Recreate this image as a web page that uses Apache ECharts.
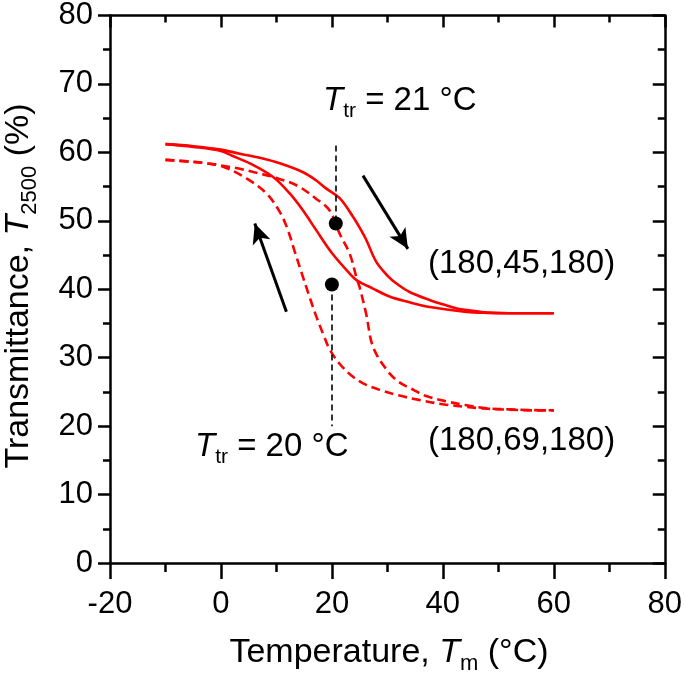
<!DOCTYPE html>
<html>
<head>
<meta charset="utf-8">
<script src="https://cdn.jsdelivr.net/npm/echarts@6/dist/echarts.min.js"></script>
<style>
html,body{margin:0;padding:0;background:#fff;}
#chart{width:685px;height:678px;}
</style>
</head>
<body>
<div id="chart"></div>
<script>
// ---- Data ----
// (180,45,180) heating (solid, upper branch)
const heat45T = [-10, -5, 0, 3.4, 7, 10.6, 14.8, 17, 19, 21.4, 23.8, 25, 26.2, 28, 30, 31.7, 34, 37.7, 40, 42.5, 45, 48, 52, 56, 60];
const heat45V = [61.2, 60.9, 60.4, 59.8, 59.2, 58.4, 57.1, 56.0, 54.7, 53.3, 50.6, 49.0, 47.2, 44.0, 42.0, 40.8, 39.6, 38.4, 37.8, 37.2, 36.9, 36.6, 36.5, 36.5, 36.5];
// (180,45,180) cooling (solid, lower branch)
const cool45T = [-10, -5, 0, 2, 5.2, 9.4, 12.4, 14.8, 17.2, 20, 23.2, 24.5, 27.4, 30.5, 33.5, 37.7, 44.3, 48, 52, 56, 60];
const cool45V = [61.2, 60.8, 60.2, 59.5, 58.4, 56.4, 54.0, 51.5, 48.6, 45.3, 42.3, 41.3, 40.1, 38.9, 38.2, 37.4, 36.7, 36.55, 36.5, 36.5, 36.5];
// (180,69,180) heating (dashed, upper branch)
const heat69T = [-10, -6, -2.6, 0, 3.4, 6, 9.4, 13.6, 17.2, 19.6, 21.4, 23.2, 24.5, 25, 26.2, 27.4, 29.9, 32, 34.7, 37, 40.7, 44, 47.9, 52, 56, 60];
const heat69V = [58.9, 58.7, 58.4, 58.1, 57.6, 57.1, 56.4, 55.2, 53.2, 51.5, 48.1, 45.2, 41.5, 40.3, 36.3, 31.6, 28.2, 26.5, 25.3, 24.4, 23.6, 23.1, 22.6, 22.45, 22.35, 22.3];
// (180,69,180) cooling (dashed, lower branch)
const cool69T = [-10, -5, -2.6, 0.4, 4.6, 8.2, 10.6, 12, 13.3, 14.5, 16, 17.2, 18.5, 19.6, 21.5, 23.8, 26, 28.6, 32, 35.9, 40, 44.3, 48, 52, 56, 60];
const cool69V = [58.9, 58.6, 58.4, 57.9, 56.2, 54.0, 51.3, 48.8, 45.5, 42.5, 38.8, 36.0, 33.3, 31.2, 29.0, 27.2, 26.1, 25.3, 24.5, 23.8, 23.2, 22.8, 22.55, 22.4, 22.3, 22.3];
// Transition points and guide lines
const trPoints = [[20.7, 49.6], [20, 40.7]];
const trLine21 = [[20.7, 61], [20.7, 49.6]];
const trLine20 = [[20, 40.7], [20, 20]];
// Arrows (start -> tip)
const arrowHeat = [[25.6, 56.6], [33.7, 45.9]];
const arrowCool = [[11.8, 36.7], [6.1, 49.6]];
// Axes
const xMin = -20, xMax = 80, xStep = 20;
const yMin = 0, yMax = 80, yStep = 10;
const sampleLabels = ['(180,45,180)', '(180,69,180)'];

const zip = (a, b) => a.map((v, i) => [v, b[i]]);
const FONT = 'Liberation Sans, Arial, sans-serif';
const RED = '#ff0000';

const chart = echarts.init(document.getElementById('chart'), null, {renderer: 'canvas'});

const richTitle = {
  n: {fontSize: 34, fontFamily: FONT, color: '#000'},
  i: {fontSize: 34, fontFamily: FONT, fontStyle: 'italic', color: '#000'},
  s: {fontSize: 22, fontFamily: FONT, color: '#000', padding: [22, 0, 0, 0]}
};
const richAnno = {
  n: {fontSize: 33, fontFamily: FONT, color: '#000'},
  i: {fontSize: 33, fontFamily: FONT, fontStyle: 'italic', color: '#000'},
  s: {fontSize: 21, fontFamily: FONT, color: '#000', padding: [21, 0, 0, 0]}
};

function lineSeries(name, T, V, dashed) {
  return {
    name, type: 'line', data: zip(T, V), showSymbol: false, smooth: 0.35,
    lineStyle: {color: RED, width: 2.6, type: dashed ? [9, 5] : 'solid'},
    z: 3
  };
}

const tickStyle = {color: '#000', width: 2.5};

const option = {
  animation: false,
  backgroundColor: '#fff',
  grid: {left: 110, right: 20, top: 15, bottom: 115},
  xAxis: [
    {type: 'value', min: xMin, max: xMax, interval: xStep, position: 'bottom',
     axisLine: {onZero: false, lineStyle: {color: '#000', width: 2.5}},
     axisTick: {show: true, inside: false, length: 16, lineStyle: tickStyle},
     minorTick: {show: true, splitNumber: 2, length: 9, lineStyle: tickStyle},
     axisLabel: {fontSize: 31, fontFamily: FONT, color: '#000', margin: 26},
     splitLine: {show: false}},
    {type: 'value', min: xMin, max: xMax, interval: xStep, position: 'top',
     axisLine: {onZero: false, lineStyle: {color: '#000', width: 2.5}},
     axisTick: {show: true, inside: true, length: 12, lineStyle: tickStyle},
     minorTick: {show: true, splitNumber: 2, length: 7, lineStyle: tickStyle},
     axisLabel: {show: false}, splitLine: {show: false}}
  ],
  yAxis: [
    {type: 'value', min: yMin, max: yMax, interval: yStep, position: 'left',
     axisLine: {show: true, onZero: false, lineStyle: {color: '#000', width: 2.5}},
     axisTick: {show: true, inside: false, length: 12, lineStyle: tickStyle},
     minorTick: {show: true, splitNumber: 2, length: 7, lineStyle: tickStyle},
     axisLabel: {fontSize: 31, fontFamily: FONT, color: '#000', margin: 17},
     splitLine: {show: false}},
    {type: 'value', min: yMin, max: yMax, interval: yStep, position: 'right',
     axisLine: {show: true, onZero: false, lineStyle: {color: '#000', width: 2.5}},
     axisTick: {show: true, inside: true, length: 12, lineStyle: tickStyle},
     minorTick: {show: true, splitNumber: 2, length: 7, lineStyle: tickStyle},
     axisLabel: {show: false}, splitLine: {show: false}}
  ],
  series: [
    lineSeries('heat45', heat45T, heat45V, false),
    lineSeries('cool45', cool45T, cool45V, false),
    lineSeries('heat69', heat69T, heat69V, true),
    lineSeries('cool69', cool69T, cool69V, true),
    {
      name: 'tr', type: 'scatter', data: trPoints, symbol: 'circle', symbolSize: 14,
      itemStyle: {color: '#000', opacity: 1}, z: 5,
      markLine: {
        silent: true, symbol: ['none', 'none'], animation: false,
        label: {show: false},
        lineStyle: {color: '#000', width: 1.6, type: [6, 4]},
        data: [
          [{coord: trLine21[0]}, {coord: trLine21[1]}],
          [{coord: trLine20[0]}, {coord: trLine20[1]}]
        ]
      }
    },
    {
      name: 'arrows', type: 'line', data: [], showSymbol: false,
      markLine: {
        silent: true, symbol: ['none', 'arrow'], symbolSize: [14, 20], animation: false,
        label: {show: false},
        lineStyle: {color: '#000', width: 3, type: 'solid'},
        data: [
          [{coord: arrowHeat[0]}, {coord: arrowHeat[1]}],
          [{coord: arrowCool[0]}, {coord: arrowCool[1]}]
        ]
      }
    }
  ],
  graphic: [
    {type: 'text', x: 389, y: 653, z: 10,
     style: {text: '{n|Temperature, }{i|T}{s|m}{n| (°C)}', rich: richTitle, align: 'center', verticalAlign: 'middle'}},
    {type: 'text', x: 19, y: 286, rotation: Math.PI / 2, z: 10,
     style: {text: '{n|Transmittance, }{i|T}{s|2500}{n| (%)}', rich: richTitle, align: 'center', verticalAlign: 'middle'}},
    {type: 'text', x: 323, y: 101, z: 10,
     style: {text: '{i|T}{s|tr}{n| = 21 °C}', rich: richAnno, align: 'left', verticalAlign: 'middle'}},
    {type: 'text', x: 195, y: 447, z: 10,
     style: {text: '{i|T}{s|tr}{n| = 20 °C}', rich: richAnno, align: 'left', verticalAlign: 'middle'}},
    {type: 'text', x: 428, y: 264, z: 10,
     style: {text: sampleLabels[0], fontSize: 33, fontFamily: FONT, fill: '#000', align: 'left', verticalAlign: 'middle'}},
    {type: 'text', x: 428, y: 441, z: 10,
     style: {text: sampleLabels[1], fontSize: 33, fontFamily: FONT, fill: '#000', align: 'left', verticalAlign: 'middle'}}
  ]
};
chart.setOption(option);
</script>
</body>
</html>
